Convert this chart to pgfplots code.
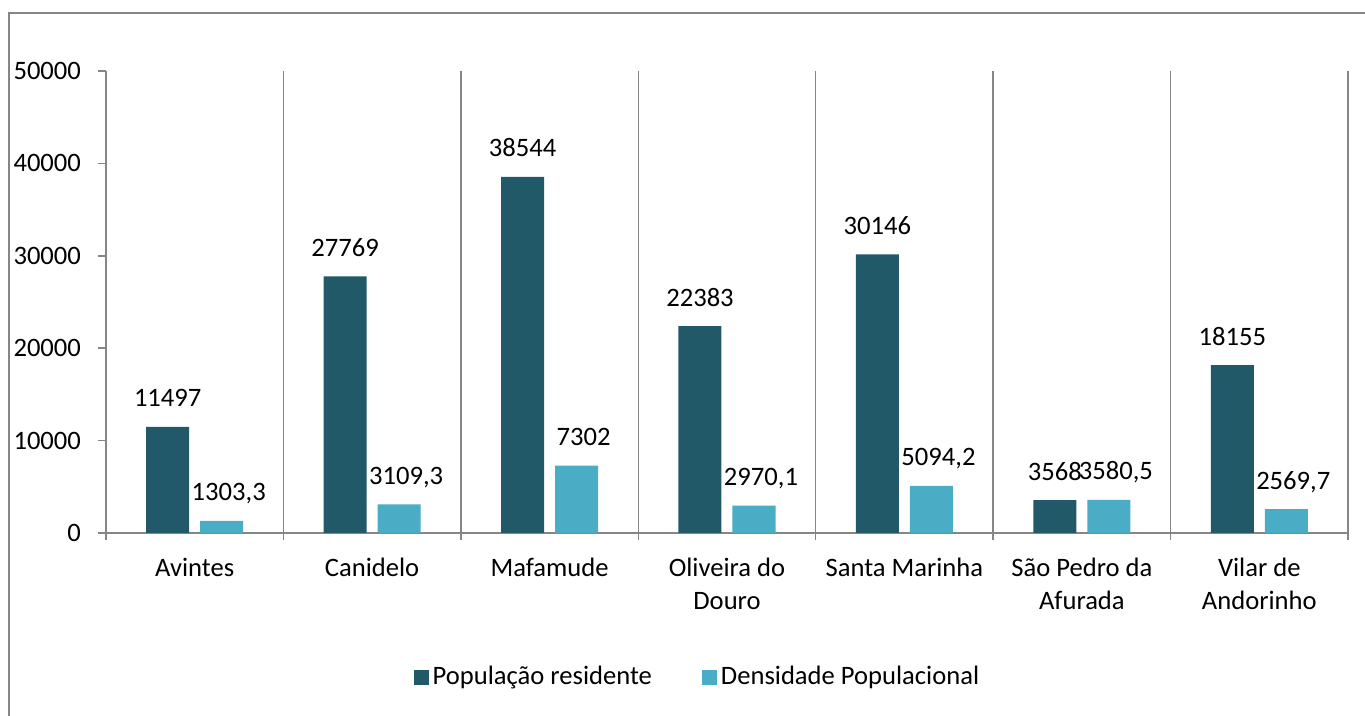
\documentclass[border=0pt]{standalone}
\usepackage{pgfplots}
\pgfplotsset{compat=1.18}
\usepackage{fontspec}
\setmainfont{Carlito}
\definecolor{popdark}{HTML}{215968}
\definecolor{poplight}{HTML}{4BACC6}
\definecolor{gridc}{RGB}{134,134,134}
\newcommand{\chartfont}{\fontsize{13.3}{16.5}\selectfont}

\begin{document}
\begin{tikzpicture}
\path[use as bounding box] (0,0) rectangle (682.5pt,358pt);
% outer chart frame (cut at the right and bottom, as in the source)
\draw[gridc, line width=0.8pt] (4.5pt,-5pt) -- (4.5pt,351.5pt) -- (700pt,351.5pt);
\begin{axis}[
  at={(53pt,91.5pt)}, anchor=south west, scale only axis,
  width=621pt, height=231pt,
  font=\chartfont,
  ybar=5.5pt, bar width=21.5pt,
  xmin=-0.5, xmax=6.5, ymin=0, ymax=50000,
  axis x line*=bottom, axis y line*=left,
  axis line style={gridc, line width=0.75pt, -},
  xtick={0,...,6},
  xticklabels={Avintes, Canidelo, Mafamude, {Oliveira do\\Douro}, Santa Marinha, {São Pedro da\\Afurada}, {Vilar de\\Andorinho}},
  xticklabel style={align=center, font=\chartfont, yshift=-5pt},
  minor xtick={-0.5,0.5,...,6.5},
  xminorgrids, minor x grid style={gridc, line width=0.75pt},
  ytick={0,10000,...,50000},
  scaled y ticks=false,
  tick align=outside, major tick length=4pt, minor tick length=3.5pt,
  tick style={gridc, line width=0.75pt},
  major x tick style={draw=none},
  /pgf/number format/assume math mode=true,
  /pgf/number format/set thousands separator={},
  yticklabel style={font=\chartfont, xshift=-5pt},
  point meta=explicit symbolic,
  nodes near coords,
  every node near coord/.append style={anchor=base, yshift=10pt, inner sep=0pt, font=\chartfont, text=black},
  legend columns=2,
  legend style={at={(0.477,-0.312)}, anchor=center, draw=none, fill=none, font=\chartfont,
    /tikz/every even column/.append style={column sep=23pt}},
]
\addplot[fill=popdark, draw=none,
  legend image code/.code={\fill[popdark] (0pt,-3.75pt) rectangle (7.5pt,3.75pt);}]
  table[x=x, y=y, meta=lab] {
x y lab
0 11497 11497
1 27769 27769
2 38544 38544
3 22383 22383
4 30146 30146
5 3568 3568
6 18155 18155
};
\addlegendentry{População residente}
\addplot[fill=poplight, draw=none,
  every node near coord/.append style={xshift=3.5pt},
  legend image code/.code={\fill[poplight] (0pt,-3.75pt) rectangle (7.5pt,3.75pt);}]
  table[x=x, y=y, meta=lab] {
x y lab
0 1303.3 1303,3
1 3109.3 3109,3
2 7302 7302
3 2970.1 2970,1
4 5094.2 5094,2
5 3580.5 3580,5
6 2569.7 2569,7
};
\addlegendentry{Densidade Populacional}
\end{axis}
\end{tikzpicture}
\end{document}
